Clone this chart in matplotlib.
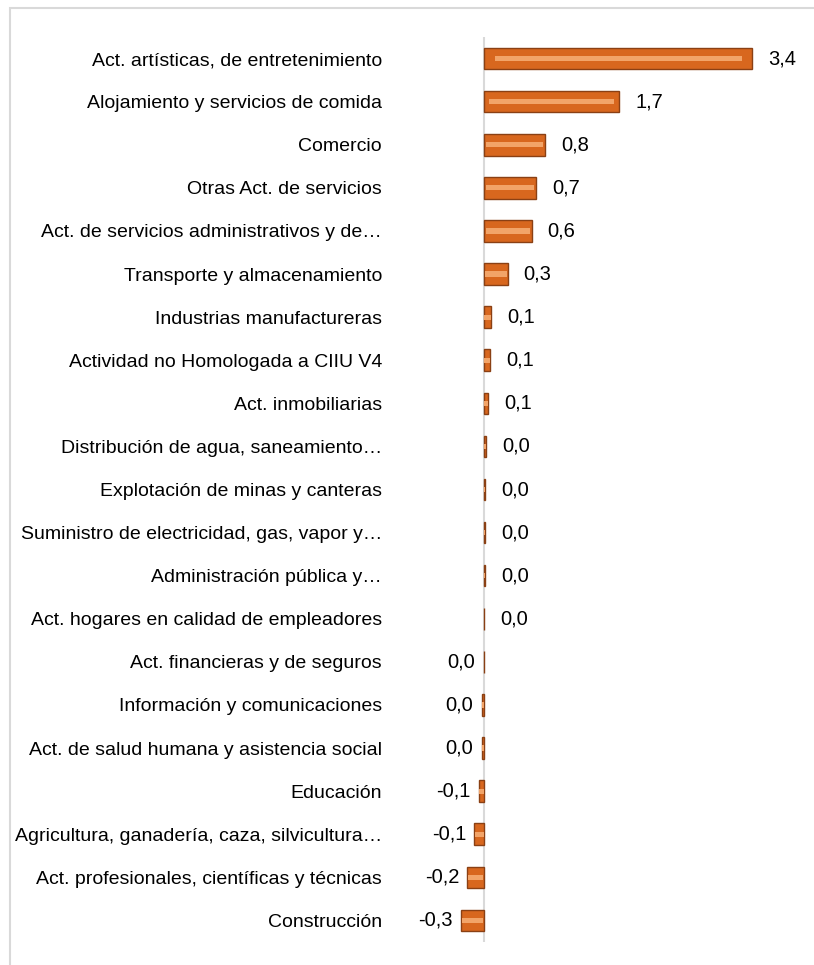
import matplotlib
matplotlib.use("Agg")
import matplotlib.pyplot as plt
from matplotlib.patches import Rectangle

plt.rcParams['font.family'] = ['Liberation Sans', 'DejaVu Sans']

categories = [
    "Act. artísticas, de entretenimiento",
    "Alojamiento y servicios de comida",
    "Comercio",
    "Otras Act. de servicios",
    "Act. de servicios administrativos y de…",
    "Transporte y almacenamiento",
    "Industrias manufactureras",
    "Actividad no Homologada a CIIU V4",
    "Act. inmobiliarias",
    "Distribución de agua, saneamiento…",
    "Explotación de minas y canteras",
    "Suministro de electricidad, gas, vapor y…",
    "Administración pública y…",
    "Act. hogares en calidad de empleadores",
    "Act. financieras y de seguros",
    "Información y comunicaciones",
    "Act. de salud humana y asistencia social",
    "Educación",
    "Agricultura, ganadería, caza, silvicultura…",
    "Act. profesionales, científicas y técnicas",
    "Construcción",
]
values = [3.39, 1.71, 0.77, 0.66, 0.60, 0.30, 0.09, 0.08, 0.05, 0.03,
          0.01, 0.01, 0.01, 0.003, -0.005, -0.03, -0.03, -0.06, -0.12, -0.21, -0.29]

W, H = 814, 965
fig = plt.figure(figsize=(W / 100, H / 100), dpi=100)

# chart frame
fig.patches.append(Rectangle((10 / W, -0.1), 1.2, 1.1 - 8 / H, transform=fig.transFigure,
                             facecolor='none', edgecolor='#D9D9D9', linewidth=1.5, zorder=-5))

ax = fig.add_axes([400 / W, 1 - 942 / H, 414 / W, (942 - 37) / H])
ax.set_facecolor('none')
n = len(categories)
ypos = list(range(n))

ax.barh(ypos, values, height=0.5, color='#D8671E', edgecolor='#8A4014', linewidth=1.0, zorder=2)
ax.barh(ypos, [v * 0.92 for v in values], height=0.12, left=[v * 0.04 for v in values],
        color='#F2A468', linewidth=0, zorder=3)

ax.axvline(0, color='#D9D9D9', linewidth=1.5, zorder=1)

for y, v in zip(ypos, values):
    txt = f"{round(v, 1) + 0.0:.1f}".replace('.', ',')
    if v >= 0:
        ax.annotate(txt, (v, y), xytext=(11.5, 0), textcoords='offset points',
                    ha='left', va='center', fontsize=14.5, color='#000000')
    else:
        ax.annotate(txt, (v, y), xytext=(-6, 0), textcoords='offset points',
                    ha='right', va='center', fontsize=14.5, color='#000000')

ax.set_xlim(-84 / 79.2, 330 / 79.2)
ax.set_ylim(n - 0.5, -0.5)
ax.set_yticks(ypos)
ax.set_yticklabels(categories, fontsize=14)
ax.tick_params(axis='y', length=0, pad=13)
ax.set_xticks([])
for s in ax.spines.values():
    s.set_visible(False)

fig.savefig("out.png", dpi=100)
